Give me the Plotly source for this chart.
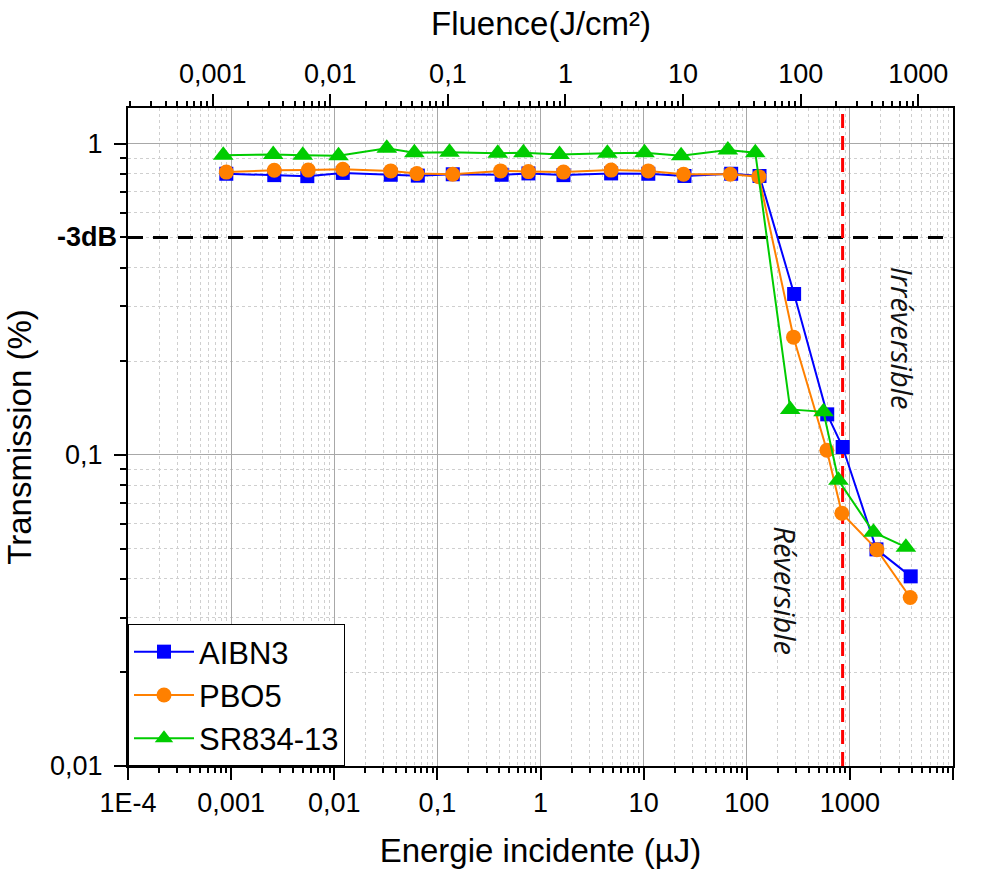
import plotly.graph_objects as go

# ---------------- data ----------------
energy_aibn3 = [8.98e-4, 2.62e-3, 5.48e-3, 0.0121, 0.0353, 0.0646, 0.141, 0.420, 0.764, 1.67,
                4.84, 11.1, 24.9, 70.6, 133, 288, 603, 851, 1811, 3890]
trans_aibn3 = [0.801, 0.793, 0.787, 0.806, 0.795, 0.790, 0.798, 0.795, 0.803, 0.793,
               0.803, 0.801, 0.788, 0.801, 0.788, 0.329, 0.135, 0.106, 0.0497, 0.0407]

energy_pbo5 = [8.98e-4, 2.62e-3, 5.6e-3, 0.0121, 0.0353, 0.0633, 0.141, 0.410, 0.764, 1.67,
               4.84, 11.1, 24.4, 69.3, 131, 284, 598, 836, 1828, 3845]
trans_pbo5 = [0.811, 0.822, 0.823, 0.828, 0.818, 0.802, 0.798, 0.818, 0.814, 0.811,
              0.823, 0.818, 0.798, 0.798, 0.784, 0.239, 0.1035, 0.0649, 0.0496, 0.0348]

energy_sr834 = [8.39e-4, 2.56e-3, 4.95e-3, 0.0110, 0.0323, 0.0598, 0.131, 0.385, 0.683, 1.53,
                4.45, 10.2, 23.1, 65.6, 121, 264, 555, 775, 1693, 3493]
trans_sr834 = [0.919, 0.924, 0.919, 0.915, 0.967, 0.936, 0.939, 0.933, 0.936, 0.924,
               0.933, 0.936, 0.915, 0.955, 0.936, 0.140, 0.1375, 0.0829, 0.0564, 0.0505]

series_names = ["AIBN3", "PBO5", "SR834-13"]

threshold_3db = 0.5          # -3 dB transmission level
reversible_limit = 850       # energy (µJ) of the red dashed boundary

x_tick_vals = [1e-4, 1e-3, 1e-2, 1e-1, 1, 10, 100, 1000, 10000]
x_tick_text = ["1E-4", "0,001", "0,01", "0,1", "1", "10", "100", "1000", "10000"]
top_tick_vals = [1e-3, 1e-2, 1e-1, 1, 10, 100, 1000]
top_tick_text = ["0,001", "0,01", "0,1", "1", "10", "100", "1000"]
y_tick_vals = [0.01, 0.1, 1]
y_tick_text = ["0,01", "0,1", "1"]

# ---------------- styling ----------------
FONT = "Liberation Sans, Arial, sans-serif"
BLUE, ORANGE, GREEN = "#0000FF", "#FF8000", "#00CC00"

x_minor = [m * 10 ** e for e in range(-4, 4) for m in range(2, 10)]
top_minor = [m * 10 ** e for e in range(-4, 4) for m in range(2, 10)]
y_minor = [m * 10 ** e for e in range(-2, 0) for m in range(2, 10)]

fig = go.Figure()

# reference lines (drawn as traces through the axes)
fig.add_trace(go.Scatter(x=[1e-4, 1e4], y=[threshold_3db, threshold_3db], mode="lines",
                         line=dict(color="black", width=3, dash="15px,10px"),
                         showlegend=False, hoverinfo="skip"))
fig.add_trace(go.Scatter(x=[reversible_limit, reversible_limit], y=[0.01, 1.31], mode="lines",
                         line=dict(color="#FF0000", width=3, dash="14px,8px"),
                         showlegend=False, hoverinfo="skip"))

fig.add_trace(go.Scatter(x=energy_aibn3, y=trans_aibn3, mode="lines+markers", name=series_names[0],
                         line=dict(color=BLUE, width=2),
                         marker=dict(symbol="square", size=14, color=BLUE)))
fig.add_trace(go.Scatter(x=energy_pbo5, y=trans_pbo5, mode="lines+markers", name=series_names[1],
                         line=dict(color=ORANGE, width=2),
                         marker=dict(symbol="circle", size=15, color=ORANGE)))
fig.add_trace(go.Scatter(x=energy_sr834, y=trans_sr834, mode="lines+markers", name=series_names[2],
                         line=dict(color=GREEN, width=2),
                         marker=dict(symbol="triangle-up", size=18, color=GREEN)))

fig.update_layout(
    width=987, height=875,
    margin=dict(l=128, r=34, t=108, b=104),
    paper_bgcolor="white", plot_bgcolor="white",
    font=dict(family=FONT, color="black"),
    showlegend=True,
    legend=dict(x=0, y=0, xanchor="left", yanchor="bottom",
                bgcolor="white", bordercolor="black", borderwidth=1,
                font=dict(family=FONT, size=31), itemwidth=60, tracegroupgap=0),
    xaxis=dict(
        type="log", range=[-4, 4], showline=True, linecolor="black", linewidth=2, mirror=False,
        tickmode="array", tickvals=x_tick_vals, ticktext=x_tick_text,
        ticks="outside", ticklen=12, tickwidth=2, tickcolor="black",
        tickfont=dict(family=FONT, size=27),
        showgrid=True, gridcolor="#A8A8A8", gridwidth=1, zeroline=False,
        minor=dict(tickmode="array", tickvals=x_minor, ticks="outside", ticklen=5, tickwidth=2,
                   tickcolor="black", showgrid=True, gridcolor="#CFCFCF", gridwidth=1,
                   griddash="3px,3px"),
        title=dict(text="Energie incidente (µJ)", font=dict(family=FONT, size=33), standoff=21),
    ),
    xaxis2=dict(
        type="log", range=[-3.720, 3.295], overlaying="x", side="top", anchor="y",
        showline=True, linecolor="black", linewidth=2,
        tickmode="array", tickvals=top_tick_vals, ticktext=top_tick_text,
        ticks="outside", ticklen=12, tickwidth=2, tickcolor="black",
        tickfont=dict(family=FONT, size=27), showgrid=False, zeroline=False,
        minor=dict(tickmode="array", tickvals=top_minor, ticks="outside", ticklen=5, tickwidth=2,
                   tickcolor="black", showgrid=False),
    ),
    yaxis=dict(
        type="log", range=[-2, 0.115], showline=True, linecolor="black", linewidth=2, mirror=True,
        tickmode="array", tickvals=y_tick_vals, ticktext=y_tick_text,
        ticks="outside", ticklen=12, tickwidth=2, tickcolor="black",
        tickfont=dict(family=FONT, size=27), ticklabelstandoff=6,
        showgrid=True, gridcolor="#A8A8A8", gridwidth=1, zeroline=False,
        minor=dict(tickmode="array", tickvals=y_minor + [threshold_3db], ticks="outside", ticklen=6,
                   tickwidth=2, tickcolor="black", showgrid=True, gridcolor="#CFCFCF",
                   gridwidth=1, griddash="3px,3px"),
        title=dict(text="Transmission (%)", font=dict(family=FONT, size=33), standoff=8),
    ),
)

# top axis needs a (hidden) trace to be attached to
fig.add_trace(go.Scatter(x=top_tick_vals, y=[1] * len(top_tick_vals), xaxis="x2", mode="markers",
                         marker=dict(opacity=0), showlegend=False, hoverinfo="skip"))

fig.add_annotation(text="Fluence(J/cm²)", xref="paper", x=0.5, yref="paper", y=1.129,
                   xanchor="center", yanchor="middle", showarrow=False,
                   font=dict(family=FONT, size=33, color="black"))
fig.add_annotation(text="<b>-3dB</b>", xref="paper", x=0, yref="y", y=-0.30103,
                   xanchor="right", yanchor="middle", xshift=-9, showarrow=False,
                   font=dict(family=FONT, size=27, color="black"))
fig.add_annotation(text="<i>Irréversible</i>", xref="paper", x=0.939, yref="paper", y=0.650,
                   xanchor="center", yanchor="middle", textangle=90, showarrow=False,
                   font=dict(family="Open Sans, sans-serif", size=29, color="#111111"))
fig.add_annotation(text="<i>Réversible</i>", xref="paper", x=0.7976, yref="paper", y=0.267,
                   xanchor="center", yanchor="middle", textangle=90, showarrow=False,
                   font=dict(family="Open Sans, sans-serif", size=29, color="#111111"))

# remove the default 8px page margin so the figure sits at the window's top-left corner
fig.write_html("out.html", config={"displayModeBar": False},
               post_script="document.body.style.margin='0px';document.body.style.overflow='hidden';")
